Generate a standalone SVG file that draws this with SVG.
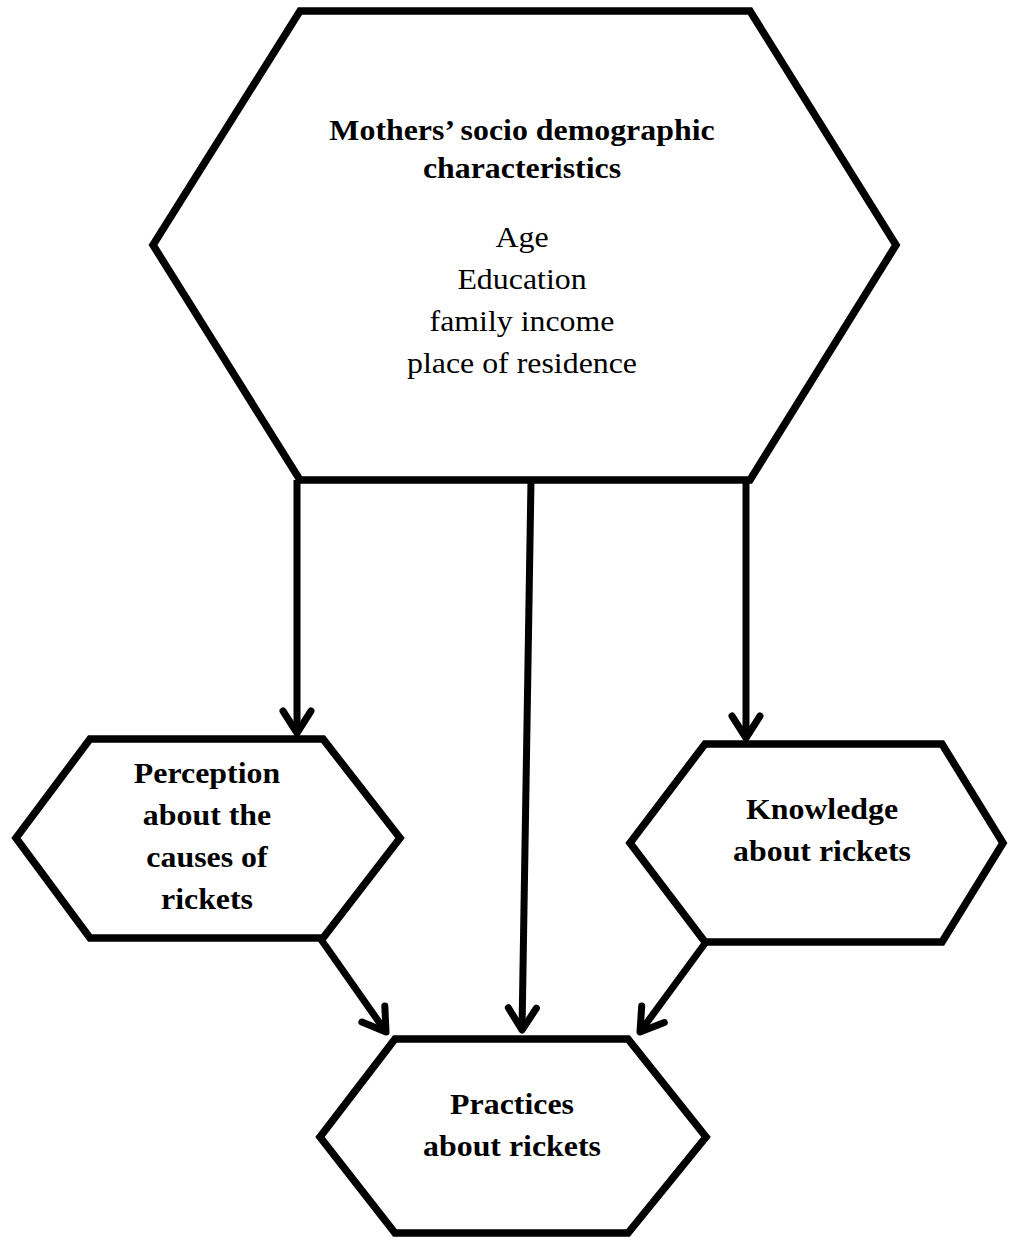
<svg xmlns="http://www.w3.org/2000/svg" width="1009" height="1237" viewBox="0 0 1009 1237">
<defs>
<style>
.hex{fill:#fff;stroke:#000;stroke-width:7.5;stroke-linejoin:miter}
.con{fill:none;stroke:#000;stroke-width:7}
.t{font-family:"Liberation Serif","Times New Roman",serif;font-size:30.5px;fill:#000;text-anchor:middle}
.b{font-weight:bold}
</style>
<marker id="arr" markerUnits="userSpaceOnUse" viewBox="-30 -20 40 40" refX="0" refY="0" markerWidth="40" markerHeight="40" orient="auto" overflow="visible">
<path d="M-22,-14 L0,0 L-22,14" fill="none" stroke="#000" stroke-width="7" stroke-linecap="round" stroke-linejoin="round"/>
</marker>
</defs>
<rect width="1009" height="1237" fill="#fff"/>
<g id="connectors">
<line class="con" x1="297" y1="480" x2="297" y2="733" marker-end="url(#arr)"/>
<line class="con" x1="746" y1="480" x2="746" y2="738" marker-end="url(#arr)"/>
<line class="con" x1="531" y1="480" x2="522" y2="1030" marker-end="url(#arr)"/>
<line class="con" x1="320" y1="938" x2="386" y2="1032" marker-end="url(#arr)"/>
<line class="con" x1="706" y1="942" x2="640" y2="1032" marker-end="url(#arr)"/>
</g>
<g id="node-mothers">
<path class="hex" d="M300,11 L750,11 L896,245 L750,480 L300,480 L153,245 Z"/>
<g transform="translate(522,0) scale(1.045,1)">
<text class="t b" x="0" y="140">Mothers’ socio demographic</text>
<text class="t b" x="0" y="178">characteristics</text>
<text class="t" x="0" y="247">Age</text>
<text class="t" x="0" y="289">Education</text>
<text class="t" x="0" y="331">family income</text>
<text class="t" x="0" y="373">place of residence</text>
</g>
</g>
<g id="node-perception">
<path class="hex" d="M90,739 L323,739 L400,838 L323,938 L90,938 L16,838 Z"/>
<g transform="translate(207,0) scale(1.045,1)">
<text class="t b" x="0" y="783">Perception</text>
<text class="t b" x="0" y="825">about the</text>
<text class="t b" x="0" y="867">causes of</text>
<text class="t b" x="0" y="909">rickets</text>
</g>
</g>
<g id="node-knowledge">
<path class="hex" d="M705,744 L942,744 L1003,843 L942,942 L705,942 L630,843 Z"/>
<g transform="translate(822,0) scale(1.045,1)">
<text class="t b" x="0" y="819">Knowledge</text>
<text class="t b" x="0" y="861">about rickets</text>
</g>
</g>
<g id="node-practices">
<path class="hex" d="M395,1039 L628,1039 L706,1137 L628,1233 L395,1233 L320,1137 Z"/>
<g transform="translate(512,0) scale(1.045,1)">
<text class="t b" x="0" y="1114">Practices</text>
<text class="t b" x="0" y="1156">about rickets</text>
</g>
</g>
</svg>
